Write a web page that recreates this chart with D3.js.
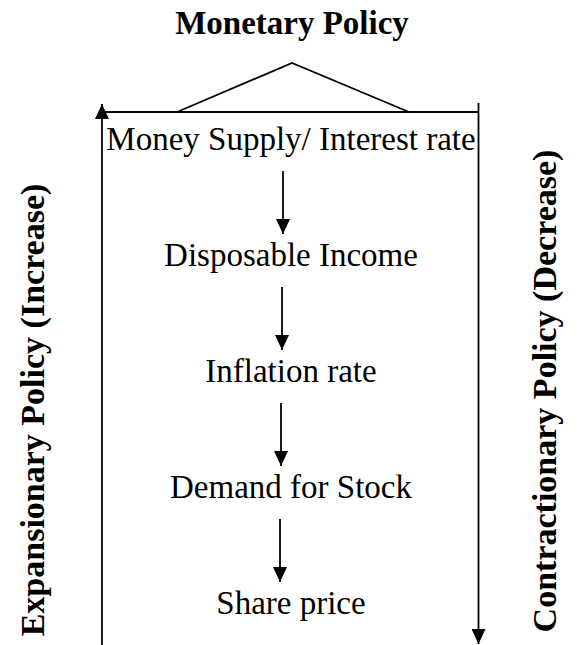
<!DOCTYPE html>
<html>
<head>
<meta charset="utf-8">
<script src="https://cdn.jsdelivr.net/npm/d3@7"></script>
<style>
  html, body { margin: 0; padding: 0; background: #fff; }
  svg { display: block; }
  text { font-family: "Liberation Serif", "Times New Roman", serif; fill: #000; }
</style>
</head>
<body>
<script>
// ---- Data ----
const title = "Monetary Policy";
const steps = ["Money Supply/ Interest rate", "Disposable Income", "Inflation rate", "Demand for Stock", "Share price"];
const leftLabel = "Expansionary Policy (Increase)";
const rightLabel = "Contractionary Policy (Decrease)";

const W = 582, H = 645;
const svg = d3.select("body").append("svg").attr("width", W).attr("height", H);

const defs = svg.append("defs");
defs.append("marker")
  .attr("id", "ah").attr("viewBox", "0 0 15 14")
  .attr("refX", 15).attr("refY", 7)
  .attr("markerWidth", 15).attr("markerHeight", 14)
  .attr("markerUnits", "userSpaceOnUse")
  .attr("orient", "auto")
  .append("path").attr("d", "M0,0 L15,7 L0,14 Z").attr("fill", "#000");

// scales
const y = d3.scalePoint().domain(steps).range([150, 614]);
const xL = 102, xR = 478.5, yTop = 112;
const cx = 291;
const sw = 1.8;

// title
svg.append("text").attr("x", cx + 1).attr("y", 34)
  .attr("text-anchor", "middle").attr("font-size", 33).attr("font-weight", "bold")
  .text(title);

// triangle
svg.append("path")
  .attr("d", `M177,${yTop} L292,63 L409,${yTop}`)
  .attr("fill", "none").attr("stroke", "#000").attr("stroke-width", sw);

// top horizontal line
svg.append("line").attr("x1", xL).attr("x2", xR).attr("y1", yTop).attr("y2", yTop)
  .attr("stroke", "#000").attr("stroke-width", sw);

// left vertical (arrow up)
svg.append("line").attr("x1", xL).attr("x2", xL).attr("y1", H + 5).attr("y2", 104)
  .attr("stroke", "#000").attr("stroke-width", sw).attr("marker-end", "url(#ah)");

// right vertical (arrow down)
svg.append("line").attr("x1", xR).attr("x2", xR).attr("y1", 103).attr("y2", 644)
  .attr("stroke", "#000").attr("stroke-width", sw).attr("marker-end", "url(#ah)");

// step texts
svg.selectAll("text.step").data(steps).join("text")
  .attr("class", "step")
  .attr("x", cx).attr("y", d => y(d))
  .attr("text-anchor", "middle").attr("font-size", 33)
  .text(d => d);

// arrows between steps
const pairs = d3.pairs(steps);
svg.selectAll("line.flow").data(pairs).join("line")
  .attr("class", "flow")
  .attr("x1", (d, i) => 283 - i).attr("x2", (d, i) => 283 - i)
  .attr("y1", d => y(d[0]) + 21)
  .attr("y2", d => y(d[1]) - 32)
  .attr("stroke", "#000").attr("stroke-width", sw)
  .attr("marker-end", "url(#ah)");

// side labels
svg.append("text")
  .attr("transform", `translate(44,${410}) rotate(-90)`)
  .attr("text-anchor", "middle").attr("font-size", 34).attr("font-weight", "bold")
  .text(leftLabel);

svg.append("text")
  .attr("transform", `translate(556,${391}) rotate(-90)`)
  .attr("text-anchor", "middle").attr("font-size", 34).attr("font-weight", "bold")
  .text(rightLabel);
</script>
</body>
</html>
